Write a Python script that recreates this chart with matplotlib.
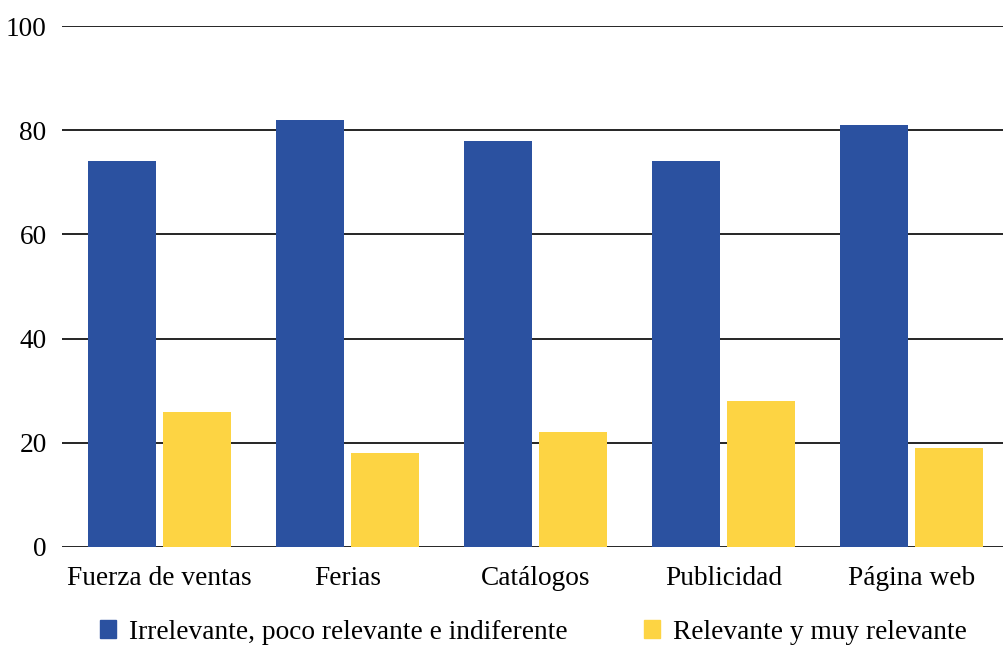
import matplotlib.pyplot as plt
import numpy as np
from matplotlib.patches import Patch

categorias = ["Fuerza de ventas", "Ferias", "Catálogos", "Publicidad", "Página web"]
irrelevante = [74, 82, 78, 74, 81]
relevante = [26, 18, 22, 28, 19]
series_labels = ["Irrelevante, poco relevante e indiferente",
                 "Relevante y muy relevante"]
yticks = [0, 20, 40, 60, 80, 100]

AZUL = "#2B51A0"
AMARILLO = "#FDD443"
FS = 19.7

plt.rcParams['font.family'] = ['Liberation Serif', 'DejaVu Serif']

fig = plt.figure(figsize=(10.04, 6.45), dpi=100)
ax = fig.add_axes([62 / 1004, (645 - 547) / 645, 1 - 62 / 1004, (547 - 26) / 645])

x = np.arange(len(categorias))
ancho = 68 / 188
desp = 37.5 / 188
ax.bar(x - desp, irrelevante, ancho, color=AZUL, zorder=3)
ax.bar(x + desp, relevante, ancho, color=AMARILLO, zorder=3)

ax.set_xlim(-97.5 / 188, -97.5 / 188 + 942 / 188)
ax.set_ylim(0, 100)
ax.set_yticks(yticks)
ax.set_xticks(x)
ax.set_xticklabels(categorias)
ax.grid(axis='y', color='black', linewidth=1.2, zorder=1)
ax.tick_params(axis='both', length=0, labelsize=FS)
ax.tick_params(axis='x', pad=14)
ax.tick_params(axis='y', pad=11)
for s in ax.spines.values():
    s.set_visible(False)

handles = [Patch(color=AZUL), Patch(color=AMARILLO)]
fig.legend(handles, series_labels, loc='center', bbox_to_anchor=(0.531, 0.02),
           ncol=2, frameon=False, fontsize=FS, handlelength=0.6, handleheight=0.6,
           handletextpad=0.45, columnspacing=2.8)

fig.savefig("out.png", dpi=100)
